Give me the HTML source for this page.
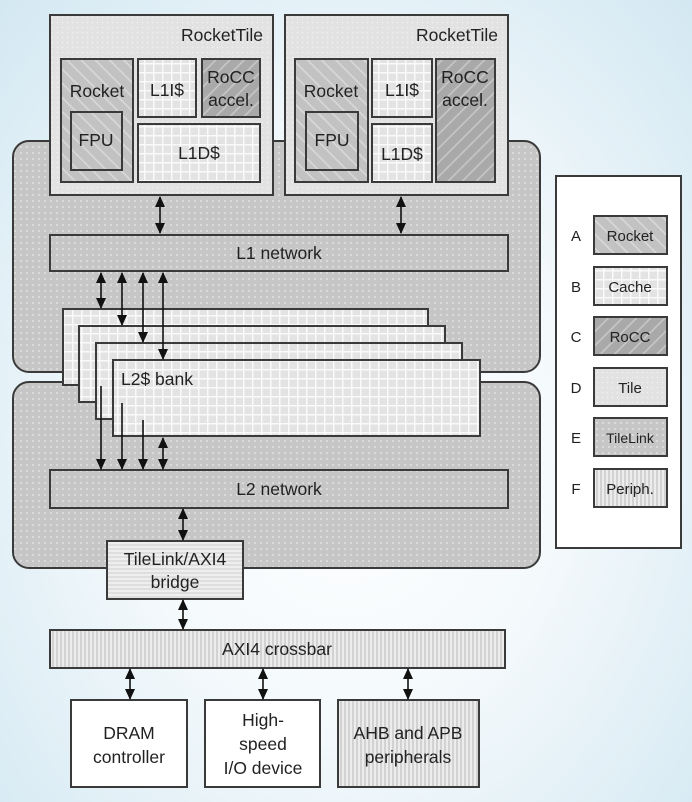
<!DOCTYPE html>
<html><head><style>
html,body{margin:0;padding:0;width:692px;height:802px;overflow:hidden}
body{background:radial-gradient(ellipse at 50% 55%,#ffffff 0%,#f4f9fc 45%,#d3e8f2 100%)}
text{font-family:"Liberation Sans",sans-serif;fill:#222}
</style></head><body>
<svg width="692" height="802" xmlns="http://www.w3.org/2000/svg">
<defs>
<pattern id="dots" width="6" height="6" patternUnits="userSpaceOnUse"><rect width="6" height="6" fill="#c6c6c6"/><circle cx="3" cy="3" r="0.9" fill="#e8e8e8"/></pattern>
<pattern id="tile" width="5" height="5" patternUnits="userSpaceOnUse"><rect width="5" height="5" fill="#e2e2e2"/><circle cx="2.5" cy="2.5" r="0.8" fill="#f2f2f2"/></pattern>
<pattern id="grid" width="9" height="9" patternUnits="userSpaceOnUse"><rect width="9" height="9" fill="#e3e3e3"/><path d="M0 0.75H9M0.75 0V9" stroke="#fafafa" stroke-width="1.5"/></pattern>
<pattern id="rocket" width="10" height="10" patternUnits="userSpaceOnUse" patternTransform="rotate(45)"><rect width="10" height="10" fill="#c2c2c2"/><path d="M0 5H10" stroke="#dadada" stroke-width="1.5"/></pattern>
<pattern id="rocc" width="10" height="10" patternUnits="userSpaceOnUse" patternTransform="rotate(-45)"><rect width="10" height="10" fill="#a9a9a9"/><path d="M0 5H10" stroke="#c9c9c9" stroke-width="1.5"/></pattern>
<pattern id="periph" width="4" height="4" patternUnits="userSpaceOnUse"><rect width="4" height="4" fill="#ececec"/><path d="M1 0V4" stroke="#b8b8b8" stroke-width="1"/></pattern>
<pattern id="hstripe" width="4" height="4" patternUnits="userSpaceOnUse"><rect width="4" height="4" fill="#eeeeee"/><path d="M0 1H4" stroke="#cfcfcf" stroke-width="1"/></pattern>
<marker id="ah" markerWidth="11" markerHeight="10" refX="10" refY="5" orient="auto-start-reverse" markerUnits="userSpaceOnUse"><path d="M0 0L11 5L0 10Z" fill="#111"/></marker>
</defs>
<g stroke="#3a3a3a" stroke-width="2">
<rect x="13" y="141" width="527" height="231" rx="16" fill="url(#dots)"/>
<rect x="13" y="382" width="527" height="186" rx="16" fill="url(#dots)"/>
<rect x="50" y="15" width="223" height="180" fill="url(#tile)"/>
<rect x="61" y="59" width="72" height="123" fill="url(#rocket)"/>
<rect x="71" y="112" width="51" height="58" fill="url(#rocket)"/>
<rect x="138" y="59" width="58" height="58" fill="url(#grid)"/>
<rect x="202" y="59" width="58" height="58" fill="url(#rocc)"/>
<rect x="138" y="124" width="122" height="58" fill="url(#grid)"/>
<rect x="285" y="15" width="223" height="180" fill="url(#tile)"/>
<rect x="295" y="59" width="73" height="123" fill="url(#rocket)"/>
<rect x="306" y="112" width="52" height="58" fill="url(#rocket)"/>
<rect x="372" y="59" width="60" height="58" fill="url(#grid)"/>
<rect x="372" y="124" width="60" height="58" fill="url(#grid)"/>
<rect x="436" y="59" width="59" height="123" fill="url(#rocc)"/>
<rect x="50" y="235" width="458" height="36" fill="url(#dots)"/>
<rect x="63" y="309" width="365" height="76" fill="url(#grid)"/>
<rect x="79" y="326" width="366" height="76" fill="url(#grid)"/>
<rect x="96" y="343" width="366" height="76" fill="url(#grid)"/>
<rect x="113" y="360" width="367" height="76" fill="url(#grid)"/>
<rect x="50" y="470" width="458" height="38" fill="url(#dots)"/>
<rect x="107" y="541" width="136" height="58" fill="url(#hstripe)"/>
<rect x="50" y="630" width="455" height="38" fill="url(#periph)"/>
<rect x="71" y="700" width="116" height="87" fill="#fff"/>
<rect x="205" y="700" width="115" height="87" fill="#fff"/>
<rect x="338" y="700" width="141" height="87" fill="url(#periph)"/>
<rect x="556" y="176" width="125" height="372" fill="#fff"/>
<rect x="594" y="216" width="73" height="38" fill="url(#rocket)"/>
<rect x="594" y="267" width="73" height="38" fill="url(#grid)"/>
<rect x="594" y="317" width="73" height="38" fill="url(#rocc)"/>
<rect x="594" y="368" width="73" height="38" fill="url(#tile)"/>
<rect x="594" y="418" width="73" height="38" fill="url(#dots)"/>
<rect x="594" y="469" width="73" height="38" fill="url(#periph)"/>
</g>
<g stroke="#111" stroke-width="1.6" marker-start="url(#ah)" marker-end="url(#ah)">
<line x1="160" y1="197" x2="160" y2="233"/>
<line x1="401" y1="197" x2="401" y2="233"/>
<line x1="101" y1="273" x2="101" y2="308"/>
<line x1="122" y1="273" x2="122" y2="325"/>
<line x1="143" y1="273" x2="143" y2="342"/>
<line x1="163" y1="273" x2="163" y2="359"/>
<line x1="163" y1="438" x2="163" y2="469"/>
<line x1="183" y1="509" x2="183" y2="540"/>
<line x1="183" y1="600" x2="183" y2="629"/>
<line x1="130" y1="669" x2="130" y2="699"/>
<line x1="263" y1="669" x2="263" y2="699"/>
<line x1="408" y1="669" x2="408" y2="699"/>
</g>
<g stroke="#111" stroke-width="1.6" marker-end="url(#ah)">
<line x1="101" y1="386" x2="101" y2="469"/>
<line x1="122" y1="403" x2="122" y2="469"/>
<line x1="143" y1="420" x2="143" y2="469"/>
</g>
<g font-size="17.5">
<text x="263" y="41" text-anchor="end">RocketTile</text>
<text x="498" y="41" text-anchor="end">RocketTile</text>
<text x="97" y="97" text-anchor="middle">Rocket</text>
<text x="96" y="146" text-anchor="middle">FPU</text>
<text x="167" y="96" text-anchor="middle">L1I$</text>
<text x="231" y="83" text-anchor="middle">RoCC</text>
<text x="231" y="106" text-anchor="middle">accel.</text>
<text x="199" y="159" text-anchor="middle">L1D$</text>
<text x="331" y="97" text-anchor="middle">Rocket</text>
<text x="332" y="146" text-anchor="middle">FPU</text>
<text x="402" y="96" text-anchor="middle">L1I$</text>
<text x="402" y="160" text-anchor="middle">L1D$</text>
<text x="465" y="83" text-anchor="middle">RoCC</text>
<text x="465" y="106" text-anchor="middle">accel.</text>
<text x="279" y="259" text-anchor="middle">L1 network</text>
<text x="121" y="385">L2$ bank</text>
<text x="279" y="495" text-anchor="middle">L2 network</text>
<text x="175" y="565" text-anchor="middle">TileLink/AXI4</text>
<text x="175" y="588" text-anchor="middle">bridge</text>
<text x="277" y="655" text-anchor="middle">AXI4 crossbar</text>
<text x="129" y="739" text-anchor="middle">DRAM</text>
<text x="129" y="763" text-anchor="middle">controller</text>
<text x="263" y="726" text-anchor="middle">High-</text>
<text x="263" y="750" text-anchor="middle">speed</text>
<text x="263" y="774" text-anchor="middle">I/O device</text>
<text x="408" y="739" text-anchor="middle">AHB and APB</text>
<text x="408" y="763" text-anchor="middle">peripherals</text>
</g>
<g font-size="15">
<text x="576" y="241" text-anchor="middle">A</text>
<text x="576" y="292" text-anchor="middle">B</text>
<text x="576" y="342" text-anchor="middle">C</text>
<text x="576" y="393" text-anchor="middle">D</text>
<text x="576" y="443" text-anchor="middle">E</text>
<text x="576" y="494" text-anchor="middle">F</text>
<text x="630" y="241" text-anchor="middle">Rocket</text>
<text x="630" y="292" text-anchor="middle">Cache</text>
<text x="630" y="342" text-anchor="middle">RoCC</text>
<text x="630" y="393" text-anchor="middle">Tile</text>
<text x="630" y="443" text-anchor="middle" font-size="14">TileLink</text>
<text x="630" y="494" text-anchor="middle">Periph.</text>
</g>
</svg>
</body></html>
